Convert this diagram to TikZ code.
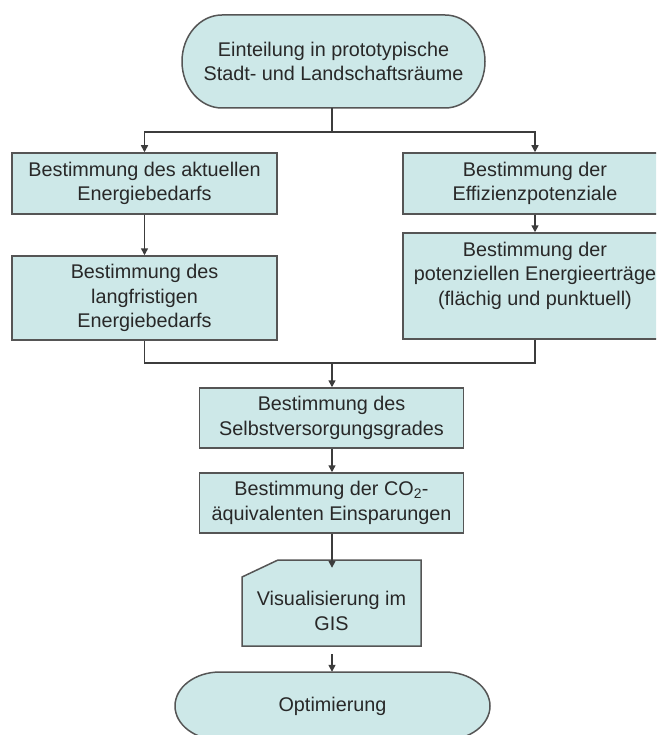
\documentclass[tikz,border=0pt]{standalone}
\usepackage{fontspec}
\setmainfont{Liberation Sans}
\usetikzlibrary{arrows.meta}
\definecolor{boxfill}{RGB}{205,232,232}
\definecolor{boxedge}{RGB}{85,85,85}
\definecolor{linecol}{RGB}{60,60,60}
\definecolor{txt}{RGB}{40,40,40}
\begin{document}
\begin{tikzpicture}[x=1pt,y=-1pt,
  every node/.style={font=\fontsize{19.8}{24.5}\selectfont, text=txt, align=center, inner sep=0pt},
  procbox/.style={draw=boxedge, fill=boxfill, line width=1.5pt, rectangle, minimum width=264pt},
  shapeedge/.style={draw=boxedge, fill=boxfill, line width=1.5pt},
  conn/.style={draw=linecol, line width=1.5pt},
  arr/.style={conn, -{Triangle[length=7pt,width=7pt]}}
]
\useasboundingbox (0,0) rectangle (656,735);
\begin{scope}
\clip (0,0) rectangle (656,735);
% top terminator
\path[shapeedge] (222,15) -- (445,15) arc[start angle=-90,end angle=90,x radius=40,y radius=46.5] -- (222,108) arc[start angle=90,end angle=270,x radius=40,y radius=46.5] -- cycle;
\node (T) [minimum width=304pt, minimum height=93pt] at (333.5,61.5) {Einteilung in prototypische\\Stadt- und Landschaftsräume};

\node (A) [procbox, minimum width=265pt, minimum height=61pt] at (144.5,183.5) {Bestimmung des aktuellen\\Energiebedarfs};
\node (B) [procbox, minimum width=265pt, minimum height=84pt] at (144.5,298) {Bestimmung des\\langfristigen\\Energiebedarfs};
\node (C) [procbox, minimum height=61pt] at (535,183.5) {Bestimmung der\\Effizienzpotenziale};
\node (D) [procbox, minimum height=106pt] at (535,286) {\raisebox{10pt}[\height][\depth]{\begin{tabular}{@{}c@{}}Bestimmung der\\potenziellen Energieerträge\\(flächig und punktuell)\end{tabular}}};
\node (E) [procbox, minimum height=60pt] at (331.5,418) {Bestimmung des\\Selbstversorgungsgrades};
\node (F) [procbox, minimum height=60pt] at (331.5,503) {Bestimmung der CO\textsubscript{2}-\\äquivalenten Einsparungen};

% document/card shape
\path[shapeedge] (242,577) -- (278,560) -- (421,560) -- (421,646) -- (242,646) -- cycle;
\node (G) [minimum width=179pt, minimum height=86pt] at (331.5,611) {Visualisierung im\\GIS};

% bottom terminator
\path[shapeedge] (220,672) -- (445,672) arc[start angle=-90,end angle=90,x radius=45,y radius=34] -- (220,740) arc[start angle=90,end angle=270,x radius=45,y radius=34] -- cycle;
\node (H) [minimum width=315pt, minimum height=68pt] at (332.5,706) {Optimierung};

% connectors
\coordinate (split) at (332,132);
\coordinate (join) at (332,363);
\draw[conn] (T.south -| split) -- (split);
\draw[arr] (split) -| (A.north);
\draw[arr] (split) -| (C.north);
\draw[arr] (A) -- (B);
\draw[arr] (C) -- (D);
\draw[conn] (B.south) |- (join);
\draw[conn] (D.south) |- (join);
\draw[arr] (join) -- (E.north -| join);
\draw[arr] (E.south -| join) -- (F.north -| join);
\draw[arr] (F.south -| join) -- (G.north -| join);
\draw[arr] (G.south -| join) -- (H.north -| join);
\end{scope}
\end{tikzpicture}
\end{document}
